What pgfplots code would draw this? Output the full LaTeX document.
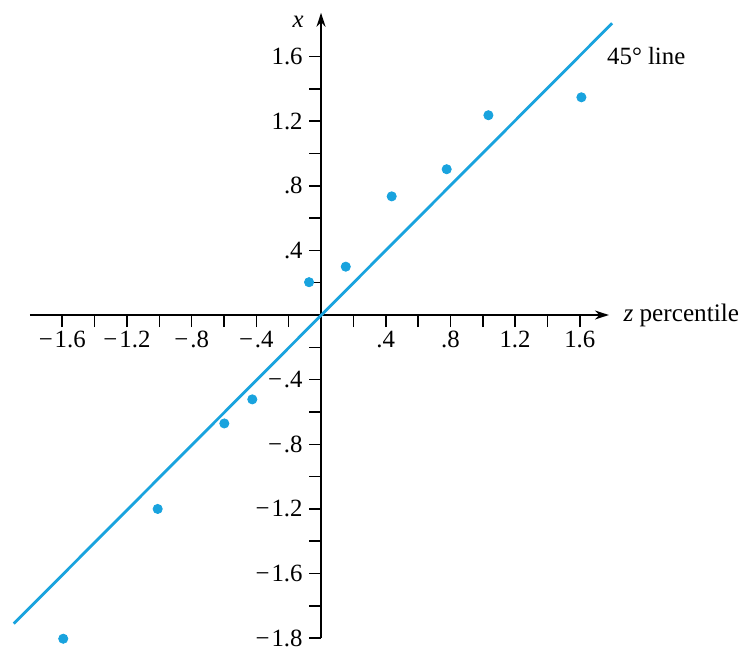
\documentclass[border=0pt]{standalone}
\usepackage{fontspec}
\setmainfont{Liberation Serif}
\usepackage{pgfplots}
\pgfplotsset{compat=1.18}
\usetikzlibrary{arrows.meta}
\definecolor{qblue}{RGB}{25,163,222}
\newcommand{\mn}{−\kern0.08em}
\begin{document}
\begin{tikzpicture}
\begin{axis}[
  x=80.85pt, y=80.8pt,
  axis lines=middle,
  xmin=-1.8, xmax=1.78,
  ymin=-2.0, ymax=1.87,
  clip=false,
  axis line style={line width=0.8pt, black, -{Stealth[length=7pt,width=4.5pt]}},
  tick style={line width=0.8pt, black},
  tick align=outside,
  major tick length=6pt,
  xtick={-1.6,-1.4,-1.2,-1,-0.8,-0.6,-0.4,-0.2,0.2,0.4,0.6,0.8,1,1.2,1.4,1.6},
  xticklabels={\mn1.6,,\mn1.2,,\mn.8,,\mn.4,,,.4,,.8,,1.2,,1.6},
  ytick={-2,-1.8,-1.6,-1.4,-1.2,-1,-0.8,-0.6,-0.4,-0.2,0.2,0.4,0.6,0.8,1,1.2,1.4,1.6},
  yticklabels={\mn1.8,,\mn1.6,,\mn1.2,,\mn.8,,\mn.4,,,.4,,.8,,1.2,,1.6},
  ticklabel style={font=\fontsize{12.4}{14}\selectfont},
  xticklabel style={inner sep=2pt},
  yticklabel style={inner sep=3pt},
]
\addplot[qblue, line width=1.4pt] coordinates {(-1.90,-1.91) (1.80,1.805)};
\addplot[only marks, mark=*, mark size=2.3pt, qblue, mark options={draw=qblue, fill=qblue}] coordinates {
  (-1.594,-2.003)
  (-1.010,-1.200)
  (-0.598,-0.671)
  (-0.425,-0.522)
  (-0.074,0.203)
  (0.153,0.299)
  (0.437,0.734)
  (0.777,0.902)
  (1.035,1.236)
  (1.610,1.347)
};
\node[anchor=base west, inner sep=0pt, font=\fontsize{12.4}{14}\selectfont] at (axis cs:1.767,1.547) {45° line};
\node[anchor=base west, inner sep=0pt, font=\fontsize{12.6}{14}\selectfont] at (axis cs:1.868,-0.04) {\textit{z} percentile};
\node[anchor=center, inner sep=0pt, font=\fontsize{12.4}{14}\selectfont] at (axis cs:-0.142,1.815) {\textit{x}};
\coordinate (BL) at (axis cs:-1.985,-2.104);
\coordinate (TR) at (axis cs:2.634,1.949);
\end{axis}
\pgfresetboundingbox
\path[use as bounding box] (BL) rectangle (TR);
\end{tikzpicture}
\end{document}
